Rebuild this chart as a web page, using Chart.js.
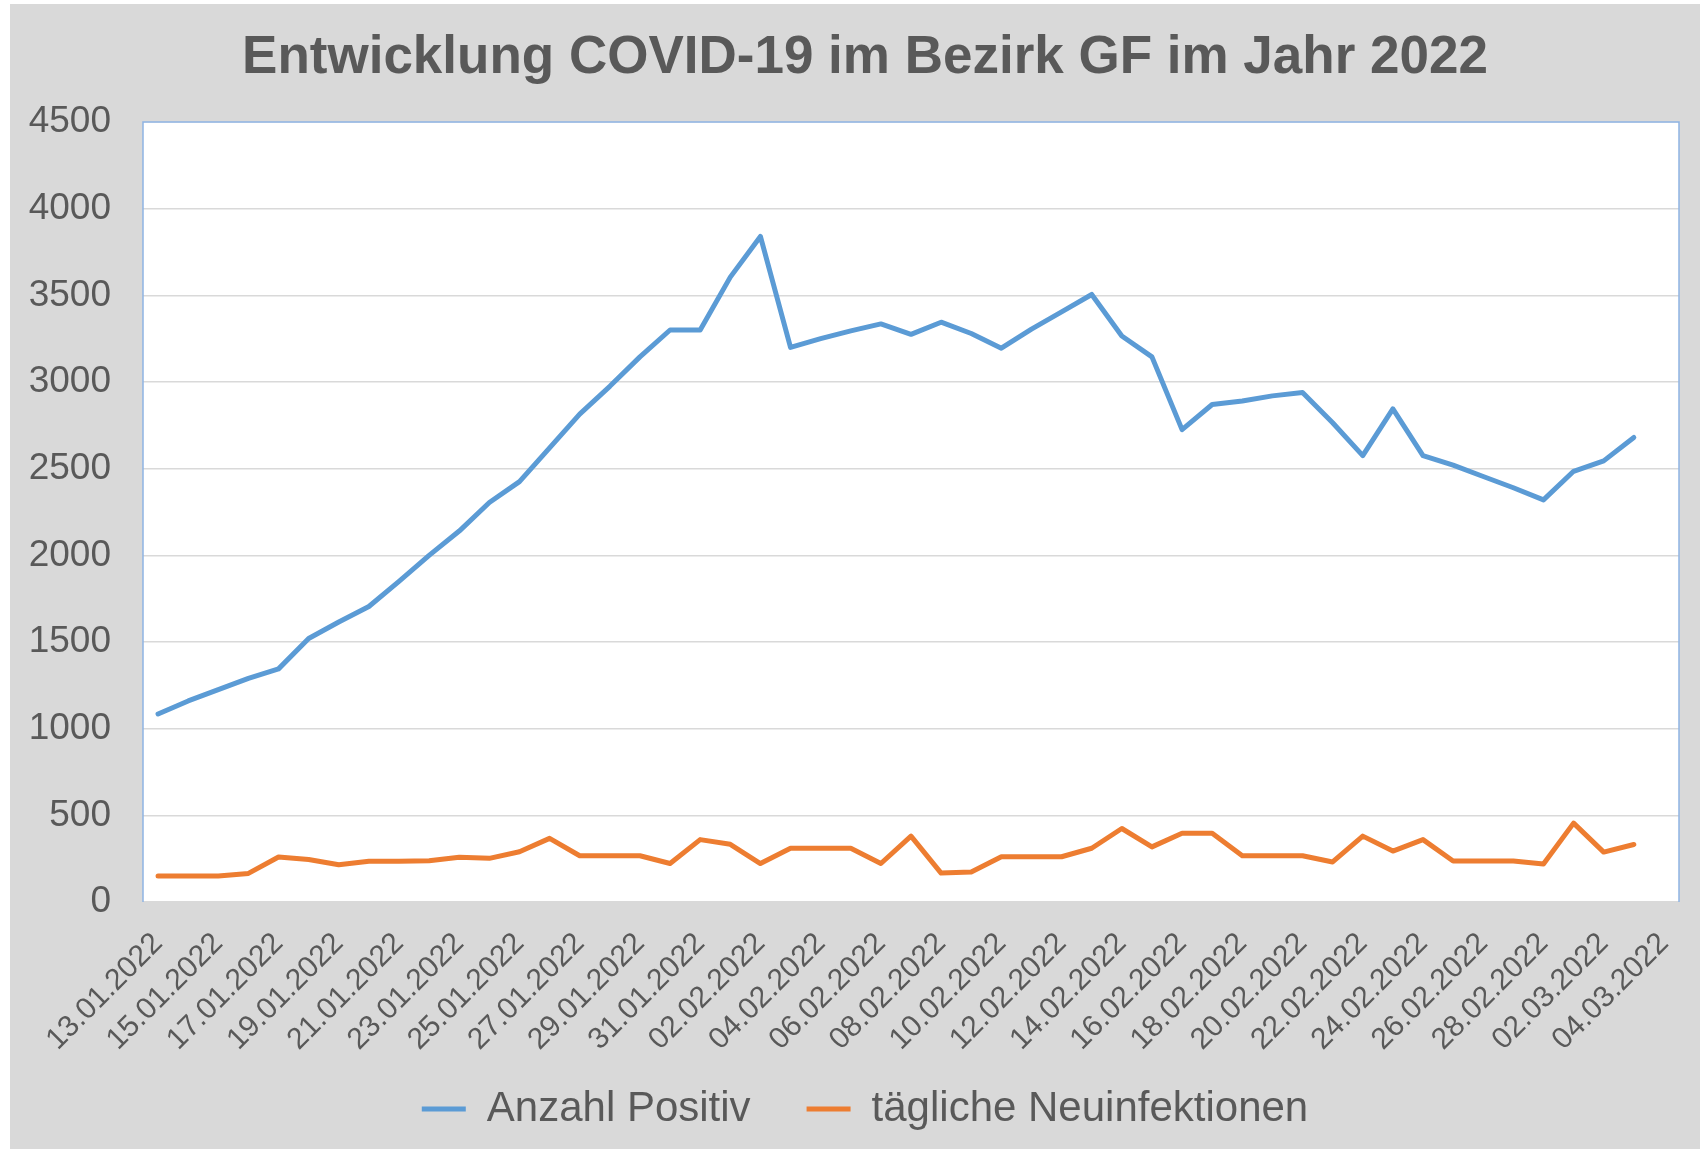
<html>
<head>
<meta charset="utf-8">
<script src="https://cdn.jsdelivr.net/npm/chart.js@4.4.1/dist/chart.umd.min.js"></script>
<style type="text/css">
    body { margin: 0; background: #ffffff; overflow: hidden; }
    #box { position: absolute; left: 10px; top: 4px; width: 1690px; height: 1145px; background: #d9d9d9; }
</style>
</head>

<body>
    <div id="box">
        <canvas id="myChart" width="1690" height="1145"></canvas>
    </div>
<script>
    var dates = [
        "13.01.2022", "14.01.2022", "15.01.2022", "16.01.2022", "17.01.2022", "18.01.2022", "19.01.2022",
        "20.01.2022", "21.01.2022", "22.01.2022", "23.01.2022", "24.01.2022", "25.01.2022", "26.01.2022",
        "27.01.2022", "28.01.2022", "29.01.2022", "30.01.2022", "31.01.2022", "01.02.2022", "02.02.2022",
        "03.02.2022", "04.02.2022", "05.02.2022", "06.02.2022", "07.02.2022", "08.02.2022", "09.02.2022",
        "10.02.2022", "11.02.2022", "12.02.2022", "13.02.2022", "14.02.2022", "15.02.2022", "16.02.2022",
        "17.02.2022", "18.02.2022", "19.02.2022", "20.02.2022", "21.02.2022", "22.02.2022", "23.02.2022",
        "24.02.2022", "25.02.2022", "26.02.2022", "27.02.2022", "28.02.2022", "01.03.2022", "02.03.2022",
        "03.03.2022", "04.03.2022"
    ];

    var anzahlPositiv = [
        1085, 1160, 1225, 1290, 1345, 1520, 1615, 1705, 1850, 2000,
        2140, 2305, 2425, 2620, 2815, 2975, 3145, 3300, 3300, 3605,
        3840, 3200, 3250, 3295, 3335, 3275, 3345, 3280, 3195, 3305,
        3405, 3505, 3265, 3145, 2725, 2870, 2890, 2920, 2940, 2765,
        2575, 2845, 2575, 2520, 2455, 2390, 2320, 2485, 2545, 2680,
        null
    ];

    var neuinfektionen = [
        150, 150, 150, 165, 260, 245, 215, 235, 235, 238,
        258, 252, 290, 367, 267, 267, 267, 222, 360, 333,
        222, 310, 310, 310, 222, 380, 167, 173, 261, 261,
        261, 310, 424, 318, 397, 397, 267, 267, 267, 231,
        380, 294, 360, 237, 237, 237, 219, 455, 288, 332,
        null
    ];

    var yMax = 4500;
    var yStep = 500;

    var grau = '#595959';
    Chart.defaults.font.family = '"Liberation Sans", Arial, sans-serif';

    // weisse Zeichenflaeche mit blauem Rahmen wie in Excel
    var plotArea = {
        id: 'plotArea',
        beforeDraw: function(chart) {
            var a = chart.chartArea, ctx = chart.ctx;
            // Achsenbeschriftungen nicht am Achsenkasten abschneiden
            chart.scales.x._computeLabelArea = function() {};
            chart.scales.y._computeLabelArea = function() {};
            ctx.save();
            ctx.fillStyle = '#ffffff';
            ctx.fillRect(a.left, a.top, a.right - a.left, a.bottom - a.top);
            ctx.restore();
        },
        beforeDatasetsDraw: function(chart) {
            var a = chart.chartArea, ctx = chart.ctx;
            ctx.save();
            ctx.strokeStyle = '#8eb4e3';
            ctx.lineWidth = 1.5;
            ctx.beginPath();
            ctx.moveTo(a.left, a.bottom);
            ctx.lineTo(a.left, a.top);
            ctx.lineTo(a.right, a.top);
            ctx.lineTo(a.right, a.bottom);
            ctx.stroke();
            ctx.restore();
        }
    };

    var ctx = document.getElementById('myChart').getContext('2d');
    var chart = new Chart(ctx, {
        type: 'line',
        data: {
            labels: dates,
            datasets: [{
                label: 'Anzahl Positiv',
                data: anzahlPositiv,
                borderColor: '#5b9bd5',
                backgroundColor: '#5b9bd5',
                borderWidth: 5,
                pointRadius: 0,
                borderJoinStyle: 'round',
                borderCapStyle: 'round',
                tension: 0
            }, {
                label: 'tägliche Neuinfektionen',
                data: neuinfektionen,
                borderColor: '#ed7d31',
                backgroundColor: '#ed7d31',
                borderWidth: 5,
                pointRadius: 0,
                borderJoinStyle: 'round',
                borderCapStyle: 'round',
                tension: 0
            }]
        },
        options: {
            responsive: false,
            animation: false,
            layout: { padding: { left: 41, right: 21, top: 0, bottom: 9 } },
            plugins: {
                title: {
                    display: true,
                    text: 'Entwicklung COVID-19 im Bezirk GF im Jahr 2022',
                    color: grau,
                    font: { size: 53, weight: 'bold' },
                    padding: { top: 22.7, bottom: 31.7 }
                },
                legend: {
                    position: 'bottom',
                    labels: {
                        usePointStyle: true,
                        pointStyle: 'line',
                        pointStyleWidth: 44,
                        padding: 56,
                        color: grau,
                        font: { size: 42 }
                    }
                },
                tooltip: { enabled: false }
            },
            scales: {
                x: {
                    offset: true,
                    grid: { display: false, drawTicks: false },
                    border: { display: false },
                    ticks: {
                        autoSkip: false,
                        minRotation: 45,
                        maxRotation: 45,
                        padding: 24,
                        color: grau,
                        font: { size: 30 },
                        callback: function(v, i) { return i % 2 == 0 ? this.getLabelForValue(v) : ''; }
                    },
                    afterFit: function(s) { s.height = 130; s.paddingLeft = 0; s.paddingRight = 0; }
                },
                y: {
                    min: 0,
                    max: yMax,
                    grid: { color: '#d9d9d9', lineWidth: 1.5, drawTicks: false },
                    border: { display: false },
                    ticks: {
                        stepSize: yStep,
                        padding: 32,
                        color: grau,
                        font: { size: 37 },
                        callback: function(v) { return String(v); }
                    },
                    afterFit: function(s) { s.width = 92; }
                }
            }
        },
        plugins: [plotArea]
    });
</script>
</body>
</html>
